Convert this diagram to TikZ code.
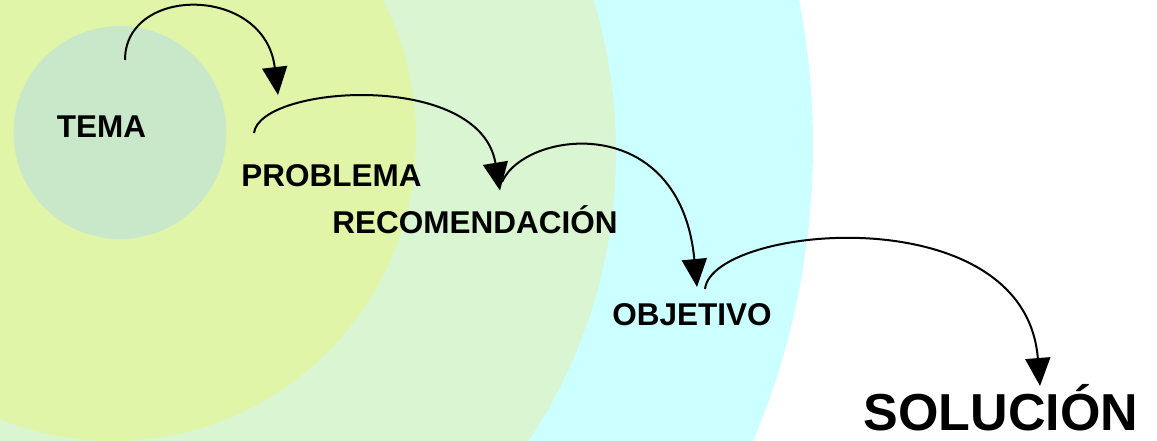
\documentclass[tikz,border=0pt]{standalone}
\usepackage{fontspec}
\setmainfont{Liberation Sans}
\usetikzlibrary{arrows.meta}
\definecolor{ringyellow}{HTML}{E0F5A8}
\definecolor{ringgreen}{HTML}{D9F5D2}
\definecolor{ringcyan}{HTML}{CCFFFF}
\definecolor{temafill}{HTML}{C9E8C9}
\tikzset{
  lbl/.style={inner sep=0pt, anchor=base, font=\bfseries\fontsize{31.5}{36}\selectfont},
  biglbl/.style={inner sep=0pt, anchor=base, font=\bfseries\fontsize{52}{60}\selectfont},
  conn/.style={draw=black, line width=2pt, -{Triangle[length=28pt,width=25pt]}},
}
\begin{document}
\begin{tikzpicture}[x=1pt,y=-1pt]
\useasboundingbox (0,0) rectangle (1157,440);
\begin{scope}
  \clip (0,0) rectangle (1157,440);
  \fill[ringcyan] (54,145) circle[radius=759pt];
  \fill[ringgreen] (96,152) circle[radius=520pt];
  \fill[ringyellow] (113,138) circle[radius=303pt];
  \fill[temafill] (120,132.5) circle[radius=106.5pt];
\end{scope}
% labels
\node[lbl] (tema) at (101.5,137) {TEMA};
\node[lbl] (problema) at (331.5,186) {PROBLEMA};
\node[lbl] (recom) at (475,233) {RECOMENDACIÓN};
\node[lbl] (objetivo) at (692,325) {OBJETIVO};
\node[biglbl] (solucion) at (1001,430) {SOLUCIÓN};
% connector ends
\coordinate (s1) at (125,60);
\coordinate (e1) at (278,95);
\coordinate (s2) at (254,133);
\coordinate (e2) at (500,190.5);
\coordinate (s3) at (502,182);
\coordinate (e3) at (697,287);
\coordinate (s4) at (705,289);
\coordinate (e4) at (1040,386);
% connectors
\draw[conn] (s1) .. controls (125,-15) and (265,-15) .. (e1);
\draw[conn] (s2) .. controls (260,85) and (480,70) .. (e2);
\draw[conn] (s3) .. controls (525,130) and (680,110) .. (e3);
\draw[conn] (s4) .. controls (712,225) and (1025,195) .. (e4);
\end{tikzpicture}
\end{document}
